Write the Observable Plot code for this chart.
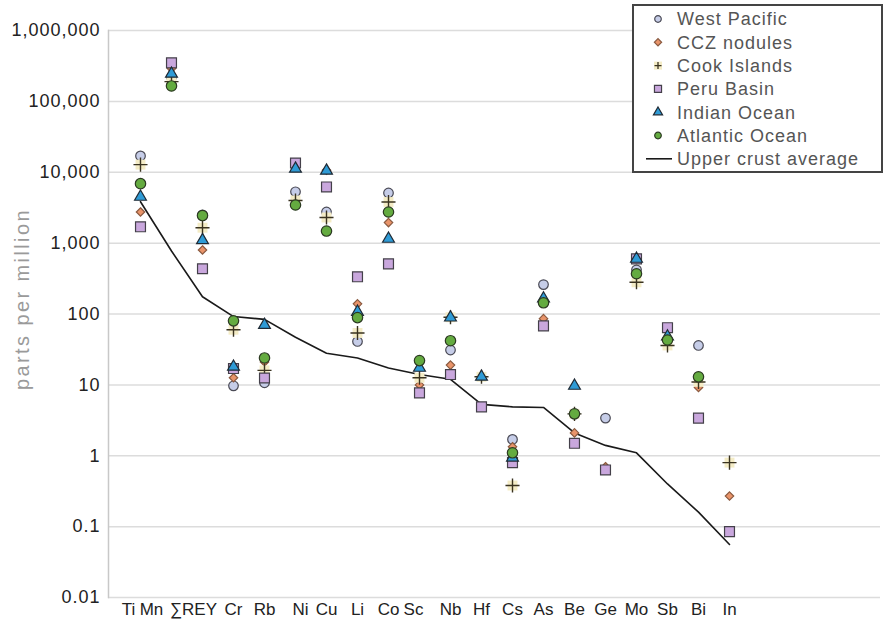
<!DOCTYPE html>
<html>
<head>
<meta charset="utf-8">
<script src="https://cdn.jsdelivr.net/npm/d3@7"></script>
<script src="https://cdn.jsdelivr.net/npm/@observablehq/plot@0.6"></script>
<style>
  body { margin: 0; background: #fff; font-family: "Liberation Sans", Arial, sans-serif; }
  #wrap { position: relative; width: 884px; height: 624px; }
  #legend { position: absolute; left: 632px; top: 4px; }
</style>
</head>
<body>
<div id="wrap"><div id="chart"></div><div id="legend"></div></div>
<script>
const elements = ["Ti","Mn","∑REY","Cr","Rb","Ni","Cu","Li","Co","Sc","Nb","Hf","Cs","As","Be","Ge","Mo","Sb","Bi","In"];

const westPacific = [17000, 220000, 2500, 9.7, 10.7, 5300, 2750, 41, 5100, null, 31, null, 1.7, 260, null, 3.4, 420, null, 36, null];
const cczNodules  = [2750, 290000, 800, 12.6, 21, 13000, 10700, 139, 1950, 10, 19, null, 1.34, 86, 2.1, 0.7, 590, null, 9.2, 0.27];
const cookIslands = [12800, 190000, 1650, 60, 16, 4000, 2300, 54, 3800, 12.6, 90, 13, 0.38, null, 3.9, null, 280, 36, 11, 0.8];
const peruBasin   = [1700, 350000, 435, 17, 12.5, 13500, 6200, 335, 510, 7.7, 14, 4.9, 0.8, 68, 1.5, 0.63, 600, 64, 3.4, 0.085];
const indianOcean = [4500, 245000, 1100, 18, 70, 11200, 10500, 107, 1150, 17.4, 89, 13, 0.94, 165, 9.7, null, 600, 48, null, null];
const atlanticOcean = [6900, 165000, 2450, 80, 24, 3450, 1480, 89, 2750, 22, 42, null, 1.1, 144, 3.9, null, 370, 43, 13, null];
const upperCrust  = [3840, 774, 175, 92, 84, 47, 28, 24, 17.3, 14, 12, 5.3, 4.9, 4.8, 2.1, 1.4, 1.1, 0.4, 0.16, 0.056];

const yTicks = [0.01, 0.1, 1, 10, 100, 1000, 10000, 100000, 1000000];
const seriesNames = ["West Pacific","CCZ nodules","Cook Islands","Peru Basin","Indian Ocean","Atlantic Ocean","Upper crust average"];

// label nudges (px) for crowded x tick labels
const labelShift = {"Ti": -12, "Mn": -20, "∑REY": -9, "Ni": 5, "Sc": -6};

const toRows = (vals) => elements.map((e, i) => ({element: e, value: vals[i]})).filter(d => d.value != null);

const series = [
  {name: "West Pacific", rows: toRows(westPacific), symbol: "circle", fill: "#c6cde8", stroke: "#4a4a55", r: 4.8},
  {name: "CCZ nodules", rows: toRows(cczNodules), symbol: "diamond2", fill: "#e9946a", stroke: "#8a5a40", r: 3.8},
  {name: "Cook Islands", rows: toRows(cookIslands), symbol: "plus", fill: "#f4ecc6", stroke: "#3a3320", r: 5},
  {name: "Peru Basin", rows: toRows(peruBasin), symbol: "square", fill: "#c9a7dd", stroke: "#44404a", r: 5.6},
  {name: "Indian Ocean", rows: toRows(indianOcean), symbol: "triangle", fill: "#2f9bd6", stroke: "#1f2a35", r: 4.4},
  {name: "Atlantic Ocean", rows: toRows(atlanticOcean), symbol: "circle", fill: "#64ab40", stroke: "#2c3a22", r: 5.2}
];

const dotMarks = [];
for (const s of series) {
  if (s.symbol === "plus") {
    dotMarks.push(Plot.dot(s.rows, {x: "element", y: "value", symbol: "square", r: 5.6, fill: s.fill, stroke: "none"}));
    dotMarks.push(Plot.dot(s.rows, {x: "element", y: "value", symbol: "plus", r: 4.6, stroke: s.stroke, strokeWidth: 1.4}));
  } else {
    dotMarks.push(Plot.dot(s.rows, {x: "element", y: "value", symbol: s.symbol, r: s.r, fill: s.fill, stroke: s.stroke, strokeWidth: 1.2}));
  }
}

const fmt = d => d >= 1 ? d3.format(",")(d) : String(d);

const plainTicks = elements.filter(e => !(e in labelShift));
const xAxes = [Plot.axisX(plainTicks, {tickSize: 0, tickPadding: 5, fontSize: 17, label: null, fill: "#222"})];
for (const [e, dx] of Object.entries(labelShift)) {
  xAxes.push(Plot.axisX([e], {tickSize: 0, tickPadding: 5, fontSize: 17, label: null, fill: "#222", dx}));
}

const chart = Plot.plot({
  width: 884,
  height: 624,
  marginLeft: 108,
  marginRight: 4,
  marginTop: 30,
  marginBottom: 27,
  style: {fontFamily: "'Liberation Sans', Arial, sans-serif", color: "#222", background: "#fff"},
  x: {type: "point", domain: elements, range: [138, 730], padding: 0},
  y: {type: "log", domain: [0.01, 1000000]},
  marks: [
    Plot.gridY(yTicks, {stroke: "#dcdcdc", strokeOpacity: 1, strokeWidth: 1.5}),
    Plot.frame({anchor: "left", stroke: "#c8c8c8", strokeWidth: 1.5}),
    Plot.axisY(yTicks, {tickSize: 0, tickPadding: 8, tickFormat: fmt, fontSize: 18, label: null, fill: "#222", letterSpacing: "1px"}),
    ...xAxes,
    Plot.text(["parts per million"], {frameAnchor: "left", dx: -86, dy: -15, rotate: -90, textAnchor: "middle", fill: "#9a9a9a", fontSize: 20, text: d => d}),
    Plot.line(toRows(upperCrust), {x: "element", y: "value", stroke: "#1a1a1a", strokeWidth: 1.6}),
    ...dotMarks
  ]
});
document.getElementById("chart").appendChild(chart);
// spacing for the rotated label
d3.select(chart).selectAll("text").filter(function() { return this.textContent === "parts per million"; })
  .attr("letter-spacing", "2.4px");
d3.select(chart).selectAll("g[aria-label='y-axis tick label'] text").attr("letter-spacing", "1px");

// Legend
const lw = 249, lh = 167, rowH = 23.3;
const ls = d3.create("svg").attr("width", lw + 2).attr("height", lh + 2)
  .style("font-family", "'Liberation Sans', Arial, sans-serif");
ls.append("rect").attr("x", 1).attr("y", 1).attr("width", lw).attr("height", lh)
  .attr("fill", "#fff").attr("stroke", "#444").attr("stroke-width", 2);
seriesNames.forEach((name, i) => {
  const cy = 15 + i * rowH;
  const g = ls.append("g").attr("transform", `translate(26,${cy})`);
  const s = series[i];
  if (s) {
    if (s.symbol === "plus") {
      g.append("rect").attr("x", -4).attr("y", -4).attr("width", 8).attr("height", 8).attr("fill", s.fill);
      g.append("path").attr("d", "M-3.5,0H3.5M0,-3.5V3.5").attr("stroke", s.stroke).attr("stroke-width", 1.3);
    } else {
      const t = {circle: d3.symbolCircle, diamond2: d3.symbolSquare, square: d3.symbolSquare, triangle: d3.symbolTriangle}[s.symbol];
      const size = {circle: 34, diamond2: 26, square: 50, triangle: 36}[s.symbol];
      const p = g.append("path").attr("d", d3.symbol(t, size)()).attr("fill", s.fill).attr("stroke", s.stroke).attr("stroke-width", 1.2);
      if (s.symbol === "diamond2") p.attr("transform", "rotate(45)");
    }
  } else {
    g.append("line").attr("x1", -12).attr("x2", 14).attr("y1", 0).attr("y2", 0).attr("stroke", "#1a1a1a").attr("stroke-width", 1.6);
  }
  ls.append("text").attr("x", 45).attr("y", cy).attr("dy", "0.35em")
    .attr("font-size", 18).attr("letter-spacing", "1px").attr("fill", "#555").text(name);
});
document.getElementById("legend").appendChild(ls.node());
</script>
</body>
</html>
